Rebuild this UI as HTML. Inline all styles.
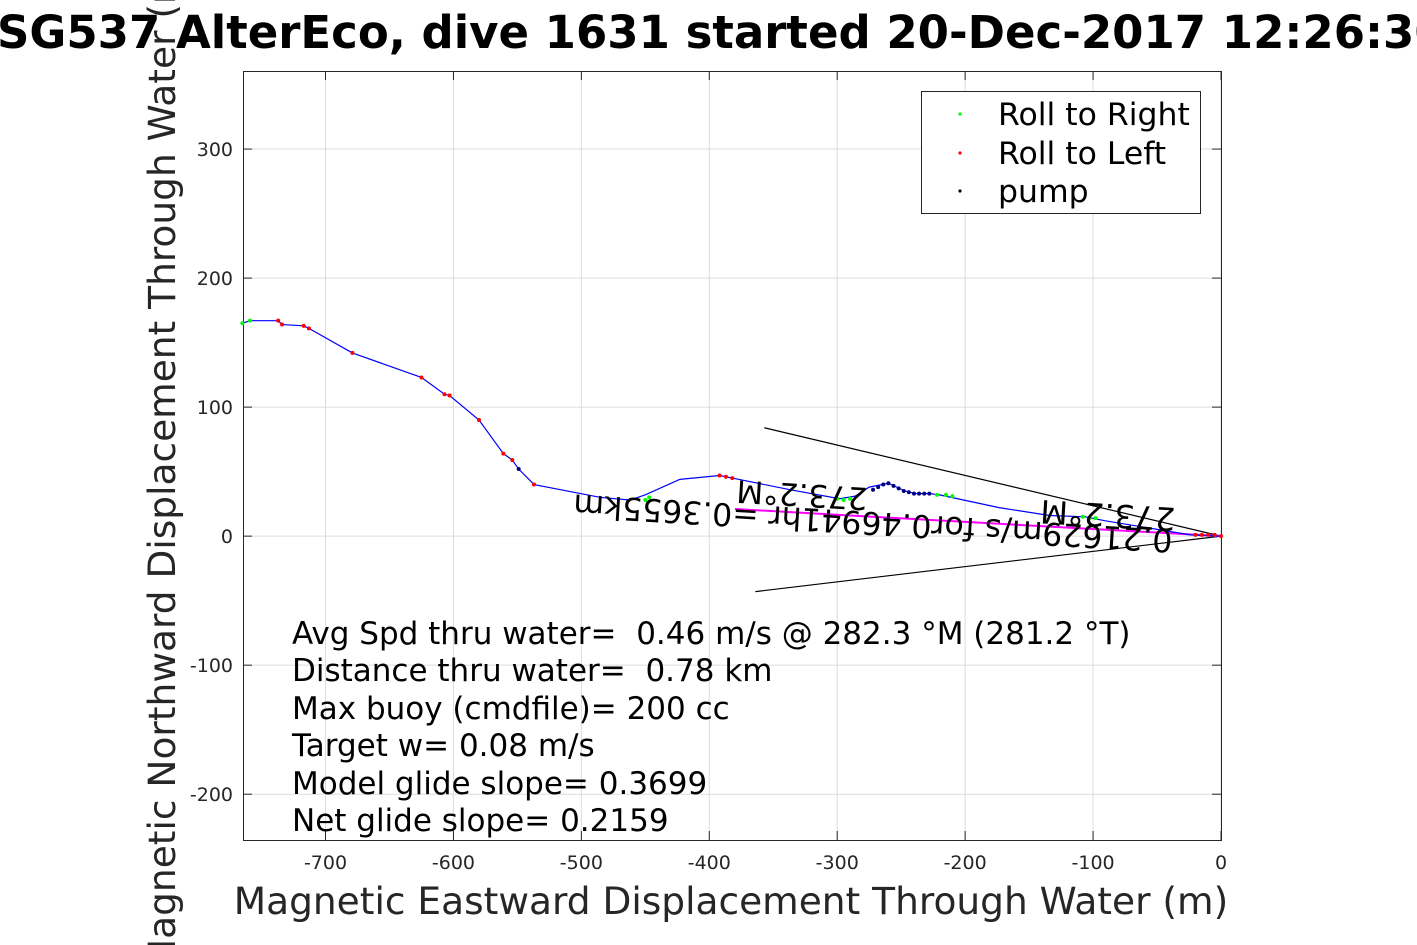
<!DOCTYPE html>
<html><head><meta charset="utf-8"><style>
html,body{margin:0;padding:0;background:#fff;width:1417px;height:945px;overflow:hidden}
svg{display:block;font-family:"DejaVu Sans","Liberation Sans",sans-serif}
text{white-space:pre}
</style></head><body>
<svg id="chart" width="1417" height="945" viewBox="0 0 1417 945" xmlns="http://www.w3.org/2000/svg">
<rect x="0" y="0" width="1417" height="945" fill="#fff"/>
<text x="-3" y="48" font-size="45" font-weight="bold" fill="#000">SG537 AlterEco, dive 1631 started 20-Dec-2017 12:26:30</text>
<g id="grid"></g>
<g id="axes"></g>
<g id="marks"></g>
<text x="731" y="914" font-size="37.5" text-anchor="middle" fill="#262626">Magnetic Eastward Displacement Through Water (m)</text>
<text transform="translate(175,462) rotate(-90)" font-size="37.5" text-anchor="middle" fill="#262626">Magnetic Northward Displacement Through Water (m)</text>
<g font-size="31" fill="#000">
<text x="292" y="644">Avg Spd thru water=  0.46 m/s @ 282.3 °M (281.2 °T)</text>
<text x="292" y="681">Distance thru water=  0.78 km</text>
<text x="292" y="719">Max buoy (cmdfile)= 200 cc</text>
<text x="292" y="756">Target w= 0.08 m/s</text>
<text x="292" y="794">Model glide slope= 0.3699</text>
<text x="292" y="831">Net glide slope= 0.2159</text>
</g>
<g fill="#000">
<text font-size="31.5" transform="translate(1173,530) rotate(183.4)">0.21629m/s for0.46941hr =0.3655km</text>
<text font-size="32" transform="translate(1176,508) rotate(183.4)">273.2°M</text>
<text font-size="31" transform="translate(868,488) rotate(183.4)">273.2°M</text>
</g>
<g>
<rect x="921.5" y="91.5" width="279" height="122" fill="#fff" stroke="#262626" stroke-width="1"/>
<circle cx="960" cy="114" r="1.6" fill="#00ff00"/>
<text x="998" y="125" font-size="31.5">Roll to Right</text>
<circle cx="960" cy="153" r="1.6" fill="#ff0000"/>
<text x="998" y="164" font-size="31.5">Roll to Left</text>
<circle cx="960" cy="191" r="1.6" fill="#000"/>
<text x="998" y="202" font-size="31.5">pump</text>
</g>
</svg>
<script>
const xTicks=[-700,-600,-500,-400,-300,-200,-100,0];
const yTicks=[-200,-100,0,100,200,300];
const trackX=[-765,-759,-737,-734,-717,-713,-679,-625,-607,-603,-580,-561,-554,-549,-537,-485,-462,-450,-423,-392,-382,-337,-298,-286,-275,-260,-247,-239,-228,-220,-173,-134,-106,-91,-24,0];
const trackY=[165,167,167,164,163,161,142,123,110,109,90,64,59,52,40,30,28,32,44,47,45,36,29,31,38,41,35,33,33,32,22,16,15,12,1,0];
const greenX=[-765,-759,-450,-447,-300,-295,-290,-222,-215,-210,-108,-103,-98];
const greenY=[165,167,28,30,29,28,29,32,32,31,15,14,14];
const redX=[-737,-734,-717,-713,-679,-625,-607,-603,-580,-561,-554,-537,-392,-387,-382,-20,-15,-10,-5,0];
const redY=[167,164,163,161,142,123,110,109,90,64,59,40,47,46,45,1,1,1,1,0];
const pumpX=[-549,-272,-268,-264,-260,-256,-252,-248,-244,-240,-236,-232,-228];
const pumpY=[52,36,38,40,41,39,37,35,34,33,33,33,33];
const coneX=[-357,0,-364];
const coneY=[84,0,-43];
const currentX=[-380,0];
const currentY=[21,0];
const X0=243,X1=1221,Y0=71,Y1=840;
const xmin=-764.5,xmax=0,ymin=-235.5,ymax=360.5;
function sx(v){return X0+(v-xmin)/(xmax-xmin)*(X1-X0);}
function sy(v){return Y1-(v-ymin)/(ymax-ymin)*(Y1-Y0);}
const NS='http://www.w3.org/2000/svg';
function mk(tag,attrs,parent){const e=document.createElementNS(NS,tag);for(const k in attrs)e.setAttribute(k,attrs[k]);parent.appendChild(e);return e;}
const grid=document.getElementById('grid'),axes=document.getElementById('axes'),marks=document.getElementById('marks');
xTicks.forEach(t=>{const x=sx(t);
 const g=mk('line',{x1:x,x2:x,y1:Y0,y2:Y1,stroke:'#dcdcdc','stroke-width':1},grid);
 
 
 mk('line',{x1:x,x2:x,y1:Y1,y2:Y1-9,stroke:'#262626'},axes);
 mk('line',{x1:x,x2:x,y1:Y0,y2:Y0+9,stroke:'#262626'},axes);
 const l=mk('text',{x:x,y:869,'font-size':19,'text-anchor':'middle',fill:'#262626'},axes);l.textContent=t;
 
 
});
yTicks.forEach(t=>{const y=sy(t);
 const g=mk('line',{x1:X0,x2:X1,y1:y,y2:y,stroke:'#dcdcdc','stroke-width':1},grid);
 
 
 mk('line',{x1:X0,x2:X0+9,y1:y,y2:y,stroke:'#262626'},axes);
 mk('line',{x1:X1,x2:X1-9,y1:y,y2:y,stroke:'#262626'},axes);
 const l=mk('text',{x:233,y:y+7,'font-size':19,'text-anchor':'end',fill:'#262626'},axes);l.textContent=t;
 
 
});
const box=mk('rect',{x:X0+0.5,y:Y0+0.5,width:X1-X0,height:Y1-Y0,fill:'none',stroke:'#262626','stroke-width':1},axes);


function poly(xs,ys,col,w,name){const p=mk('polyline',{points:xs.map((v,i)=>sx(v)+','+sy(ys[i])).join(' '),fill:'none',stroke:col,'stroke-width':w},marks);
 
 }
poly(coneX,coneY,'#000',1.2,'error-cone');
poly(currentX,currentY,'#ff00ff',2,'current-vector');
poly(trackX,trackY,'#0000ff',1.2,'track-line');
function dots(xs,ys,col,name){xs.forEach((v,i)=>{const c=mk('circle',{cx:sx(v),cy:sy(ys[i]),r:2,fill:col},marks);
 
 });}
dots(greenX,greenY,'#00ff00','roll-right-point');
dots(redX,redY,'#ff0000','roll-left-point');
dots(pumpX,pumpY,'#000080','pump-point');
</script>
</body></html>
